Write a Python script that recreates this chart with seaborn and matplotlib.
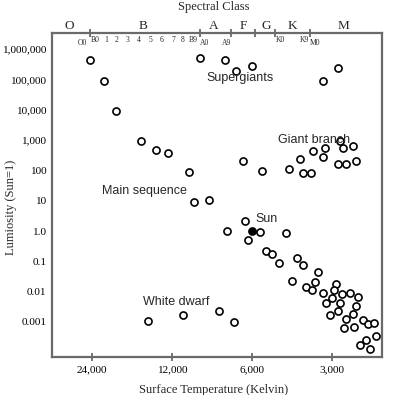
import numpy as np
import pandas as pd
import matplotlib
matplotlib.use("Agg")
import matplotlib.pyplot as plt
import matplotlib.transforms as mtransforms
from matplotlib.ticker import NullLocator
import seaborn as sns

# Star readings (surface temperature in K, luminosity in suns)
temp = [24400, 21600, 19500, 15700, 13800, 12400, 10400, 9400, 7600, 6900,
        6000, 2850, 3240, 6500, 5520, 4340, 3950, 3850, 3600, 3540,
        3180, 3240, 2800, 2730, 2490, 2840, 2650, 2440, 9900, 8700,
        6400, 7480, 5610, 6210, 4480, 5310, 5050, 4740, 4050, 3840,
        3380, 4240, 3480, 3760, 3580, 2890, 2940, 3250, 2750, 2560,
        2400, 2990, 3150, 2800, 2440, 3050, 2840, 2490, 2650, 2300,
        2190, 2090, 2700, 2470, 2050, 2240, 2350, 2150,
        14800, 10900, 7970, 7000]
lum = [440000, 91000, 9300, 955, 480, 385, 88, 500000, 430000, 187000,
       279000, 234000, 91000, 204, 95, 111, 232, 84, 84, 447,
       536, 283, 934, 561, 615, 163, 163, 204, 8.9, 10.2,
       2.1, 1.02, 0.93, 0.52, 0.84, 0.22, 0.168, 0.089, 0.128, 0.075,
       0.045, 0.0227, 0.0204, 0.0142, 0.011, 0.0185, 0.011, 0.0087, 0.0082, 0.0089,
       0.0066, 0.006, 0.0043, 0.0042, 0.0034, 0.00166, 0.00224, 0.00182, 0.00123, 0.00114,
       0.00085, 0.00092, 0.00065, 0.00069, 0.00035, 0.00025, 0.00017, 0.00013,
       0.0011, 0.00165, 0.00226, 0.00098]
sun_temp = [6000]
sun_lum = [1.0]

# Axis ticks
lum_ticks = [1e6, 1e5, 1e4, 1e3, 1e2, 1e1, 1, 0.1, 0.01, 0.001]
lum_labels = ["1,000,000", "100,000", "10,000", "1,000", "100", "10",
              "1.0", "0.1", "0.01", "0.001"]
temp_ticks = [24000, 12000, 6000, 3000]
temp_labels = ["24,000", "12,000", "6,000", "3,000"]

# Spectral class scale along the top
class_names = ["O", "B", "A", "F", "G", "K", "M"]
class_temps = [29300, 15430, 8340, 6490, 5315, 4243, 2727]
class_bounds = [24420, 9415, 7198, 5845, 4916, 3630]
sub_names = ["O0", "B0", "1", "2", "3", "4", "5", "6", "7", "8", "B9",
             "A0", "A9", "K0", "K9", "M0"]
sub_temps = [26170, 23380, 21260, 19330, 17570, 15970, 14520, 13080, 11900,
             10910, 10000, 9016, 7451, 4708, 3824, 3477]
sub_low = [True, False, False, False, False, False, False, False, False,
           False, False, True, True, False, False, True]

# Region labels
region_names = ["Supergiants", "Giant branch", "Main sequence", "White dwarf", "Sun"]
region_temps = [8880, 4800, 22070, 15390, 5845]
region_lums = [114000, 1000, 21.4, 0.00443, 2.49]

stars = pd.DataFrame({"temp": temp, "lum": lum})
sun = pd.DataFrame({"temp": sun_temp, "lum": sun_lum})

sns.set_style("white")
plt.rcParams["font.family"] = ["Liberation Serif", "DejaVu Serif"]

fig = plt.figure(figsize=(3.93, 3.95), dpi=100)
ax = fig.add_axes([0.1323, 0.0962, 0.8397, 0.8203])

sns.scatterplot(data=stars, x="temp", y="lum", ax=ax, s=26, marker="o",
                facecolor="white", edgecolor="black", linewidth=1.2, zorder=3)
sns.scatterplot(data=sun, x="temp", y="lum", ax=ax, s=26, marker="o",
                color="black", edgecolor="black", linewidth=1.2, zorder=3)

ax.set_xscale("log")
ax.set_yscale("log")
ax.set_xlim(33940, 1945)
ax.set_ylim(10 ** -4.158, 10 ** 6.535)

ax.set_yticks(lum_ticks)
ax.set_yticklabels(lum_labels)
ax.set_xticks(temp_ticks)
ax.set_xticklabels(temp_labels)
ax.xaxis.set_minor_locator(NullLocator())
ax.yaxis.set_minor_locator(NullLocator())

spine_col = "#6a6a6a"
for sp in ax.spines.values():
    sp.set_color(spine_col)
    sp.set_linewidth(1.6)
ax.tick_params(axis="both", direction="inout", length=6, width=1.3,
               color=spine_col, labelsize=8.1, labelcolor="black", pad=1.0)
ax.tick_params(axis="x", pad=3)

ax.set_xlabel("Surface Temperature (Kelvin)", fontsize=9)
ax.set_ylabel("Lumiosity (Sun=1)", fontsize=9)
ax.xaxis.set_label_coords(0.49, -0.083)
ax.yaxis.set_label_coords(-0.105, 0.461)

# top spectral-class axis
top = ax.twiny()
top.set_xscale("log")
top.set_xlim(ax.get_xlim())
top.set_xticks(class_bounds)
top.set_xticklabels([])
top.xaxis.set_minor_locator(NullLocator())
top.tick_params(axis="x", direction="inout", length=6, width=1.3, color=spine_col)
for sp in top.spines.values():
    sp.set_visible(False)

trans = mtransforms.blended_transform_factory(ax.transData, ax.transAxes)
for name, t in zip(class_names, class_temps):
    ax.text(t, 1.021, name, transform=trans, ha="center", va="center", fontsize=9.5)
for name, t, low in zip(sub_names, sub_temps, sub_low):
    ax.text(t, 0.969 if low else 0.978, name, transform=trans, ha="center",
            va="center", fontsize=5.5)
ax.text(0.49, 1.08, "Spectral Class", transform=ax.transAxes, ha="center",
        va="center", fontsize=9)

for name, t, l in zip(region_names, region_temps, region_lums):
    ax.text(t, l, name, ha="left", va="center", fontsize=9,
            family=["Liberation Sans", "DejaVu Sans"], zorder=4)

fig.savefig("out.png", dpi=100)
